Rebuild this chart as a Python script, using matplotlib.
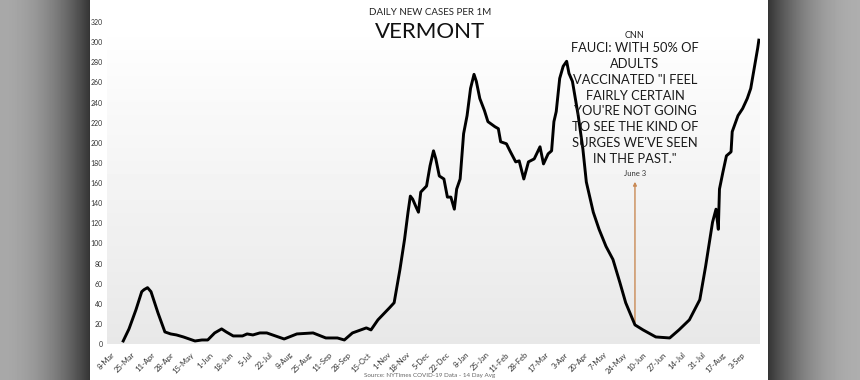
import numpy as np
import pandas as pd
import matplotlib
matplotlib.use('Agg')
import matplotlib.pyplot as plt

# 14 day avg, daily new cases per 1M, Vermont
dates = ['2020-03-18', '2020-03-23', '2020-03-29', '2020-04-03', '2020-04-05', '2020-04-08',
         '2020-04-11', '2020-04-17', '2020-04-23', '2020-04-28', '2020-05-03', '2020-05-09',
         '2020-05-14', '2020-05-19', '2020-05-25', '2020-05-30', '2020-06-05', '2020-06-11',
         '2020-06-15', '2020-06-21', '2020-06-29', '2020-07-03', '2020-07-08', '2020-07-14',
         '2020-07-20', '2020-07-25', '2020-08-04', '2020-08-15', '2020-08-29', '2020-09-09',
         '2020-09-19', '2020-09-25', '2020-10-02', '2020-10-14', '2020-10-18', '2020-10-24',
         '2020-11-03', '2020-11-07', '2020-11-12', '2020-11-16', '2020-11-19', '2020-11-21',
         '2020-11-23', '2020-11-26', '2020-11-28', '2020-11-30', '2020-12-05', '2020-12-08',
         '2020-12-11', '2020-12-13', '2020-12-16', '2020-12-20', '2020-12-23', '2020-12-26',
         '2020-12-29', '2020-12-31', '2021-01-03', '2021-01-06', '2021-01-09', '2021-01-12',
         '2021-01-15', '2021-01-17', '2021-01-20', '2021-01-24', '2021-01-27', '2021-02-02',
         '2021-02-05', '2021-02-07', '2021-02-12', '2021-02-15', '2021-02-20', '2021-02-23',
         '2021-02-27', '2021-03-03', '2021-03-08', '2021-03-13', '2021-03-16', '2021-03-20',
         '2021-03-23', '2021-03-25', '2021-03-27', '2021-03-30', '2021-04-02', '2021-04-05',
         '2021-04-07', '2021-04-10', '2021-04-15', '2021-04-19', '2021-04-22', '2021-04-28',
         '2021-05-03', '2021-05-09', '2021-05-15', '2021-05-21', '2021-05-26', '2021-06-03',
         '2021-06-10', '2021-06-21', '2021-07-03', '2021-07-11', '2021-07-20', '2021-07-29',
         '2021-08-03', '2021-08-09', '2021-08-12', '2021-08-14', '2021-08-15', '2021-08-18',
         '2021-08-21', '2021-08-25', '2021-08-26', '2021-08-31', '2021-09-04', '2021-09-08',
         '2021-09-11', '2021-09-14', '2021-09-17', '2021-09-18']
cases = [3, 15, 34, 52, 54, 56,
         52, 31, 12, 10, 9, 7,
         5, 3, 4, 4, 11, 15,
         12, 8, 8, 10, 9, 11,
         11, 9, 5, 10, 11, 6,
         6, 4, 11, 16, 14, 24,
         36, 41, 74, 104, 131, 147,
         144, 136, 131, 151, 157, 177,
         192, 184, 167, 164, 146, 146,
         134, 154, 164, 209, 227, 254,
         268, 261, 244, 232, 221, 216,
         214, 201, 199, 192, 181, 182,
         164, 181, 184, 196, 179, 189,
         192, 221, 231, 264, 276, 281,
         269, 261, 227, 194, 161, 131,
         114, 97, 84, 61, 41, 19,
         14, 7, 6, 14, 24, 44,
         77, 121, 134, 114, 154, 171,
         187, 191, 211, 227, 234, 244,
         254, 274, 294, 302]

quote_date = '2021-06-03'
quote_value = 19
quote_text = 'FAUCI: WITH 50% OF\nADULTS\nVACCINATED "I FEEL\nFAIRLY CERTAIN\nYOU\'RE NOT GOING\nTO SEE THE KIND OF\nSURGES WE\'VE SEEN\nIN THE PAST."'

yticks = list(range(0, 321, 20))
xticks = pd.date_range('2020-03-08', periods=33, freq='17D')
xlabels = [f"{d.day}-{d.strftime('%b')}" for d in xticks]

plt.rcParams['font.family'] = ['Lato', 'DejaVu Sans']

fig = plt.figure(figsize=(8.6, 3.8), dpi=100)

# grey surround with shadow next to the white sheet
bg = fig.add_axes([0, 0, 1, 1])
bg.axis('off')
xs = np.linspace(0, 860, 860)
shade = np.ones_like(xs)
left = xs < 90
right = xs > 768
shade[left] = 0.66 - 0.46 * (xs[left] / 90) ** 2
shade[right] = 0.68 - 0.48 * ((860 - xs[right]) / 92) ** 2
bg.imshow(np.tile(shade, (10, 1)), cmap='gray', vmin=0, vmax=1, aspect='auto',
          extent=[0, 1, 0, 1])
bg.set_xlim(0, 1)
bg.set_ylim(0, 1)

ax = fig.add_axes([107 / 860, 36 / 380, 653 / 860, 327 / 380])
ax.set_facecolor('none')
x = pd.to_datetime(dates)
x0, x1 = pd.Timestamp('2020-03-04'), pd.Timestamp('2021-09-19')

# faint background gradient of the plot area
grad = np.linspace(0.91, 1.0, 50).reshape(-1, 1)
ax.imshow(grad, cmap='gray', vmin=0, vmax=1, aspect='auto', origin='lower',
          extent=[matplotlib.dates.date2num(x0), matplotlib.dates.date2num(x1), 0, 325],
          zorder=0)

ax.plot(x, cases, color='black', lw=2.1, zorder=3)

qd = pd.Timestamp(quote_date)
ax.annotate('', xy=(qd, 164), xytext=(qd, quote_value),
            arrowprops=dict(arrowstyle='-|>', color='#c98a55', lw=1, mutation_scale=5),
            zorder=2)
ax.text(qd, 169, 'June 3', ha='center', va='center', fontsize=5.5, color='#333333')
ax.text(qd, 300, quote_text, ha='center', va='top', fontsize=9.3, linespacing=1.38,
        color='#1a1a1a', zorder=4)
ax.text(qd, 307, 'CNN', ha='center', va='center', fontsize=6.5, color='#222222')

ax.set_xlim(x0, x1)
ax.set_ylim(0, 325)
ax.set_yticks(yticks)
ax.set_yticklabels([str(v) for v in yticks], fontsize=5, color='#333333')
ax.set_xticks(xticks)
ax.set_xticklabels(xlabels, fontsize=5.5, color='#333333', rotation=45,
                   ha='right', rotation_mode='anchor')
ax.tick_params(axis='y', length=0, pad=3)
ax.tick_params(axis='x', length=0, pad=5)
for s in ax.spines.values():
    s.set_visible(False)

fig.text(0.5, 0.968, 'DAILY NEW CASES PER 1M', ha='center', va='center', fontsize=7,
         color='#222222')
fig.text(0.5, 0.915, 'VERMONT', ha='center', va='center', fontsize=16, color='#111111')
fig.text(0.499, 0.006, 'Source: NYTimes COVID-19 Data - 14 Day Avg', ha='center',
         va='bottom', fontsize=4.5, color='#666666')

fig.savefig('out.png', dpi=100)
